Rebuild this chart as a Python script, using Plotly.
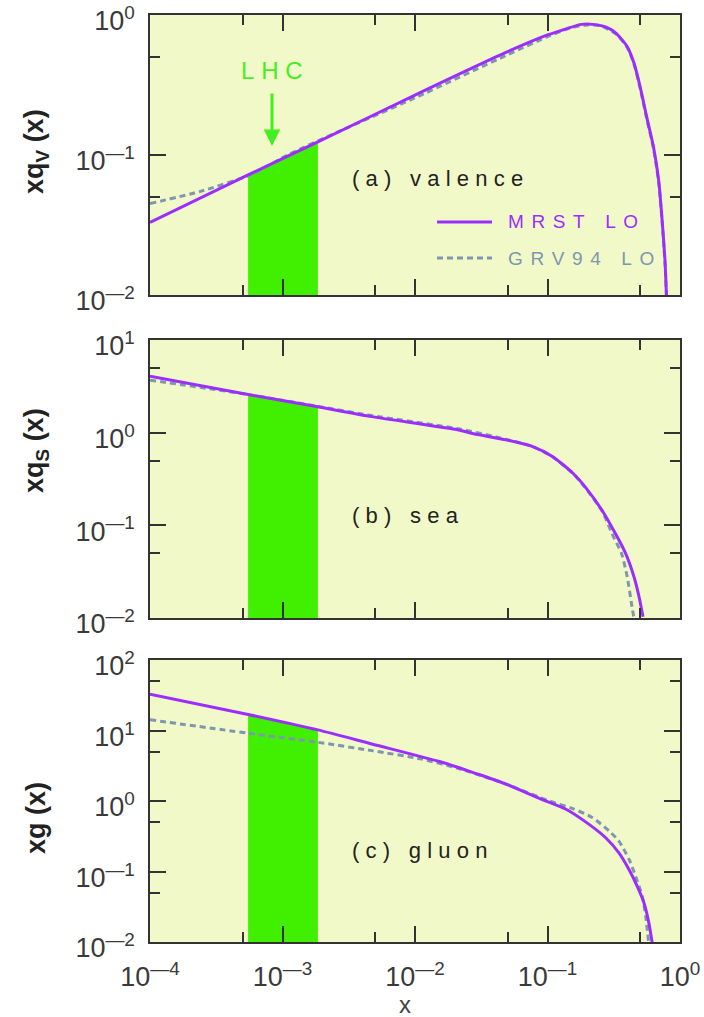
import numpy as np
import plotly.graph_objects as go

# ---- parton distributions x*f(x) for MRST LO and GRV94 LO -------------------
# (a) valence
val_mrst_x = [1e-4, 5.5e-4, 1.85e-3, 0.01, 0.05, 0.1, 0.14, 0.18, 0.22, 0.28,
              0.33, 0.4, 0.45, 0.5, 0.56, 0.63, 0.69, 0.73, 0.77, 0.79]
val_mrst_y = [0.033, 0.072, 0.124, 0.268, 0.547, 0.72, 0.80, 0.857, 0.857, 0.817,
              0.74, 0.594, 0.452, 0.308, 0.188, 0.115, 0.066, 0.036, 0.0178, 0.01]
val_grv_x = [1e-4, 2.4e-4, 5.7e-4, 1.14e-3, 2.7e-3, 0.01, 0.05, 0.1, 0.15, 0.2,
             0.25, 0.33, 0.4, 0.45, 0.5, 0.56, 0.63, 0.69, 0.73, 0.77, 0.79]
val_grv_y = [0.045, 0.055, 0.072, 0.102, 0.148, 0.256, 0.52, 0.70, 0.81, 0.85,
             0.84, 0.73, 0.585, 0.445, 0.30, 0.183, 0.112, 0.064, 0.035, 0.0172, 0.0097]

# (b) sea
sea_mrst_x = [1e-4, 5.5e-4, 1.85e-3, 4.7e-3, 0.0213, 0.0272, 0.0486, 0.0773, 0.109,
              0.155, 0.195, 0.26, 0.327, 0.39, 0.45, 0.491, 0.526]
sea_mrst_y = [4.07, 2.58, 1.90, 1.49, 1.07, 0.98, 0.836, 0.708, 0.554,
              0.367, 0.254, 0.143, 0.0805, 0.0492, 0.0277, 0.0169, 0.0103]
sea_grv_x = [1e-4, 5.5e-4, 1.85e-3, 4.7e-3, 0.0213, 0.0486, 0.0773, 0.109, 0.155,
             0.195, 0.26, 0.308, 0.363, 0.40, 0.438, 0.45]
sea_grv_y = [3.69, 2.58, 1.92, 1.53, 1.1, 0.85, 0.71, 0.55, 0.365,
             0.25, 0.14, 0.0805, 0.0492, 0.0277, 0.0122, 0.01]

# (c) gluon
glu_mrst_x = [1e-4, 5.5e-4, 1.85e-3, 4.73e-3, 0.0153, 0.0213, 0.0272, 0.0486, 0.0867,
              0.138, 0.206, 0.275, 0.346, 0.413, 0.476, 0.536, 0.583, 0.618]
glu_mrst_y = [32.7, 16.9, 10.2, 6.44, 3.63, 2.99, 2.55, 1.74, 1.09,
              0.764, 0.466, 0.301, 0.184, 0.106, 0.0615, 0.0355, 0.0184, 0.0095]
glu_grv_x = [1e-4, 5.5e-4, 1.85e-3, 4.73e-3, 0.01125, 0.0213, 0.0486, 0.103, 0.155,
             0.219, 0.292, 0.346, 0.413, 0.463, 0.52, 0.551, 0.58]
glu_grv_y = [14.2, 9.15, 6.8, 5.18, 3.93, 2.89, 1.74, 1.0, 0.78,
             0.58, 0.375, 0.27, 0.148, 0.085, 0.044, 0.023, 0.01]

# LHC x-range
lhc_lo, lhc_hi = 5.5e-4, 1.85e-3

panel_labels = ["(a) valence", "(b) sea", "(c) gluon"]
y_titles = ["xq<sub>V</sub> (x)", "xq<sub>S</sub> (x)", "xg (x)"]
y_ranges = [(-2, 0), (-2, 1), (-2, 2)]
x_decades = [-4, -3, -2, -1, 0]
series_names = ["MRST LO", "GRV94 LO"]

MRST_C = "#9b2eff"
GRV_C = "#7e96b0"
BAND_C = "#40f000"
BG = "#f2f9c9"
AX_C = "#333333"
FONT = "Liberation Sans, Arial, sans-serif"


def spaced(s, sep="\u2009"):
    return sep.join(s)


def pow_label(e):
    sign = "\u2014" if e < 0 else ""
    return "10<sup>" + sign + str(abs(e)) + "</sup>"


fig = go.Figure()

panels = [
    (val_mrst_x, val_mrst_y, val_grv_x, val_grv_y),
    (sea_mrst_x, sea_mrst_y, sea_grv_x, sea_grv_y),
    (glu_mrst_x, glu_mrst_y, glu_grv_x, glu_grv_y),
]

W, H = 704, 1017
x_dom = [150 / W, 680 / W]
y_px = [(15, 295), (340, 618), (660, 942)]

for i, (mx, my, gx, gy) in enumerate(panels):
    xa = "x" if i == 0 else f"x{i + 1}"
    ya = "y" if i == 0 else f"y{i + 1}"
    mx_a = np.array(mx)
    my_a = np.array(my)
    inside = (mx_a >= lhc_lo) & (mx_a <= lhc_hi)
    floor = 10.0 ** (y_ranges[i][0] - 1)
    bx = [lhc_lo] + list(mx_a[inside]) + [lhc_hi]
    by = [floor] + list(my_a[inside]) + [floor]
    fig.add_trace(go.Scatter(x=bx, y=by, fill="toself", fillcolor=BAND_C,
                             line=dict(width=0), mode="lines", hoverinfo="skip",
                             showlegend=False, xaxis=xa, yaxis=ya))
    fig.add_trace(go.Scatter(x=gx, y=gy, mode="lines", name=series_names[1],
                             line=dict(color=GRV_C, width=3, dash="6px,4px",
                                       shape="spline", smoothing=0.6),
                             showlegend=False, xaxis=xa, yaxis=ya))
    fig.add_trace(go.Scatter(x=mx, y=my, mode="lines", name=series_names[0],
                             line=dict(color=MRST_C, width=3,
                                       shape="spline", smoothing=0.6),
                             showlegend=False, xaxis=xa, yaxis=ya))

axis_common = dict(type="log", showline=True, linecolor=AX_C, linewidth=1.5,
                   mirror="ticks", ticks="inside", ticklen=16, tickwidth=1.5,
                   tickcolor=AX_C, showgrid=False, zeroline=False, automargin=False,
                   ticklabeloverflow="allow",
                   tickfont=dict(family=FONT, size=27, color="#3a3a3a"))

layout = dict(width=W, height=H, margin=dict(l=0, r=0, t=0, b=0, autoexpand=False),
              paper_bgcolor="white", plot_bgcolor=BG, showlegend=False,
              font=dict(family=FONT))

for i in range(3):
    xk = "xaxis" if i == 0 else f"xaxis{i + 1}"
    yk = "yaxis" if i == 0 else f"yaxis{i + 1}"
    ya = "y" if i == 0 else f"y{i + 1}"
    xa = "x" if i == 0 else f"x{i + 1}"
    top, bot = y_px[i]
    lo, hi = y_ranges[i]
    layout[xk] = dict(axis_common, domain=x_dom, anchor=ya, range=[-4, 0],
                      tickvals=[10.0 ** e for e in x_decades],
                      ticktext=[pow_label(e) for e in x_decades],
                      showticklabels=(i == 2), ticklabelstandoff=10,
                      minor=dict(ticks="inside", ticklen=10, tickwidth=1.5,
                                 tickcolor=AX_C,
                                 tickvals=[5 * 10.0 ** e for e in x_decades[:-1]]))
    decs = list(range(lo, hi + 1))
    layout[yk] = dict(axis_common, domain=[1 - bot / H, 1 - top / H], anchor=xa,
                      range=[lo, hi],
                      tickvals=[10.0 ** e for e in decs],
                      ticktext=[pow_label(e) for e in decs],
                      ticklabelstandoff=8, ticklabelshift=6,
                      minor=dict(ticks="inside", ticklen=10, tickwidth=1.5,
                                 tickcolor=AX_C,
                                 tickvals=[5 * 10.0 ** e for e in decs[:-1]]))

fig.update_layout(**layout)

ann = []
label_y = [178, 515, 850]
for i, t in enumerate(panel_labels):
    ann.append(dict(text=spaced(t, "\u2009\u200a"), x=350 / W, y=1 - label_y[i] / H,
                    xref="paper", yref="paper", xanchor="left", yanchor="middle",
                    showarrow=False, font=dict(family=FONT, size=22, color="#222222")))

title_y = [152, 451, 818]
for i, t in enumerate(y_titles):
    ann.append(dict(text=t, x=36 / W, y=1 - title_y[i] / H, xref="paper", yref="paper",
                    xanchor="center", yanchor="middle", showarrow=False, textangle=-90,
                    font=dict(family=FONT, size=27, color="#222222", weight="bold")))

# x-axis title
ann.append(dict(text="x", x=405 / W, y=1 - 1004 / H, xref="paper", yref="paper",
                xanchor="center", yanchor="middle", showarrow=False,
                font=dict(family=FONT, size=24, color="#444444")))

# LHC marker
ann.append(dict(text=spaced("LHC", "\u2009\u200a"), x=272 / W, y=1 - 70 / H,
                xref="paper", yref="paper", xanchor="center", yanchor="middle",
                showarrow=False, font=dict(family=FONT, size=24, color="#44ee22")))
ann.append(dict(text="", x=272 / W, y=1 - 146 / H, xref="paper", yref="paper",
                showarrow=True, ax=0, ay=-54, arrowhead=2, arrowsize=1.1,
                arrowwidth=3, arrowcolor="#44ee22"))

# legend
leg_rows = [(222, series_names[0], MRST_C, "solid"), (258, series_names[1], GRV_C, "6px,4px")]
shapes = []
for yy, name, col, dash in leg_rows:
    shapes.append(dict(type="line", xref="paper", yref="paper",
                       x0=437 / W, x1=492 / W, y0=1 - yy / H, y1=1 - yy / H,
                       line=dict(color=col, width=3, dash=dash)))
    ann.append(dict(text=spaced(name, "\u2009\u2009"), x=506 / W, y=1 - yy / H,
                    xref="paper", yref="paper", xanchor="left", yanchor="middle",
                    showarrow=False, font=dict(family=FONT, size=19, color=col)))

fig.update_layout(annotations=ann, shapes=shapes)
fig.write_html("out.html")
